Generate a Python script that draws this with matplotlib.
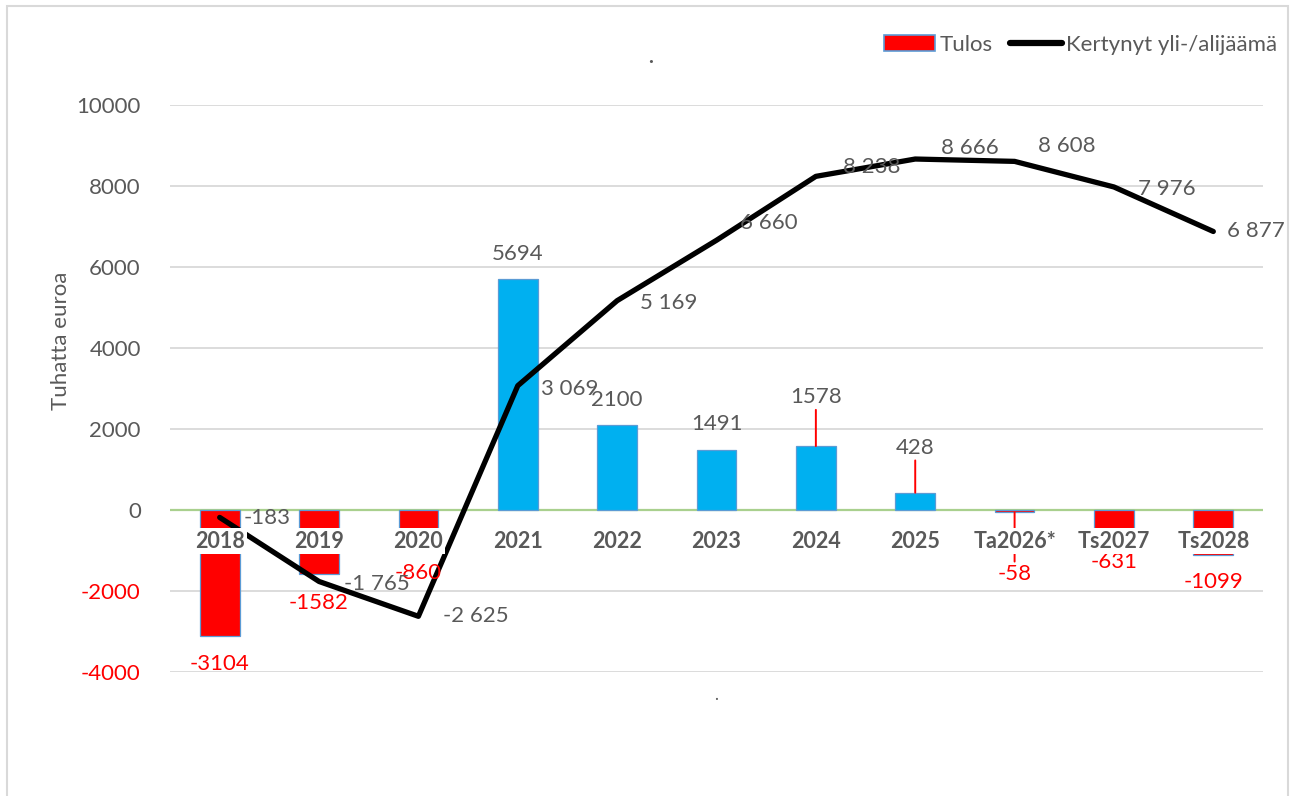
import matplotlib

matplotlib.use("Agg")
import matplotlib.pyplot as plt
from matplotlib.lines import Line2D
from matplotlib.patches import Patch, Rectangle

plt.rcParams["font.family"] = ["Lato", "DejaVu Sans"]

# ---------------------------------------------------------------------------
# Data
# ---------------------------------------------------------------------------

CATEGORIES = ["2018", "2019", "2020", "2021", "2022", "2023", "2024",
              "2025", "Ta2026*", "Ts2027", "Ts2028"]
TULOS = [-3104, -1582, -860, 5694, 2100, 1491, 1578, 428, -58, -631, -1099]
KERTYNYT = [-183, -1765, -2625, 3069, 5169, 6660, 8238, 8666, 8608, 7976, 6877]
Y_TICKS = [-4000, -2000, 0, 2000, 4000, 6000, 8000, 10000]

# label placement (offset pixels from the data point)
TULOS_OFFSETS = [(0, -28), (0, -29), (0, -28), (0, 25), (0, 25), (0, 26),
                 (0, 49), (0, 45), (0, -62), (0, -26), (0, -27)]
TULOS_LEADER = [False, False, False, False, False, False,
                True, True, True, False, False]
KERTYNYT_OFFSETS = [(24, -1), (25, -3), (25, 0), (23, -3), (23, -2), (23, 17),
                    (27, 9), (26, 11), (23, 15), (24, -2), (14, 0)]

GREY = "#595959"
RED = "#FF0000"
BLUE = "#00B0F0"
EDGE = "#5B9BD5"

W, H = 1294, 796


def fmt_space(v: int) -> str:
    return f"{v:,}".replace(",", " ")


def main() -> None:
    fig = plt.figure(figsize=(W / 100, H / 100), dpi=100)
    ax = fig.add_axes((170 / W, 1 - 672 / H, 1093 / W, 567 / H))

    x = list(range(len(CATEGORIES)))
    colours = [BLUE if v >= 0 else RED for v in TULOS]
    ax.bar(x, TULOS, width=0.4, color=colours, edgecolor=EDGE, linewidth=0.9,
           zorder=2.5)
    ax.plot(x, KERTYNYT, color="black", linewidth=3.8, solid_capstyle="round",
            solid_joinstyle="round", zorder=4)

    # bar value labels
    for i, v in enumerate(TULOS):
        dx, dy = TULOS_OFFSETS[i]
        props = None
        if TULOS_LEADER[i]:
            props = dict(arrowstyle="-", color=RED, lw=1.4, shrinkA=0, shrinkB=0)
        ax.annotate(str(v), (i, v), xytext=(dx, dy), textcoords="offset pixels",
                    ha="center", va="center", fontsize=16,
                    color=GREY if v >= 0 else RED, arrowprops=props, zorder=5,
                    annotation_clip=False)

    # line value labels
    for i, v in enumerate(KERTYNYT):
        dx, dy = KERTYNYT_OFFSETS[i]
        ax.annotate(fmt_space(v), (i, v), xytext=(dx, dy),
                    textcoords="offset pixels", ha="left", va="center",
                    fontsize=16, color=GREY, zorder=5, annotation_clip=False)

    # category labels sit just below the zero line, on white boxes
    for i, c in enumerate(CATEGORIES):
        ax.text(i, 0.231, c, transform=ax.get_xaxis_transform(), ha="center",
                va="center", fontsize=15.5, fontweight="bold", color=GREY,
                zorder=6, bbox=dict(boxstyle="square,pad=0.1", fc="white",
                                    ec="none"))

    ax.set_xlim(-0.5, len(CATEGORIES) - 0.5)
    ax.set_ylim(-4000, 10000)
    ax.set_yticks(Y_TICKS)
    ax.set_yticklabels([str(t) for t in Y_TICKS])
    for t, lab in zip(Y_TICKS, ax.get_yticklabels()):
        lab.set_color(RED if t < 0 else GREY)
    ax.tick_params(axis="y", length=0, pad=21, labelsize=16)
    ax.set_xticks([])
    ax.grid(axis="y", color="#D9D9D9", linewidth=1.3, zorder=0)
    ax.set_axisbelow(True)
    ax.axhline(0, color="#A9D08E", linewidth=1.6, zorder=2)
    for s in ax.spines.values():
        s.set_visible(False)

    ax.set_ylabel("Tuhatta euroa", fontsize=16, color=GREY)
    ax.yaxis.set_label_coords(-0.091, 0.584)

    handles = [Patch(facecolor=RED, edgecolor=EDGE, linewidth=1.2),
               Line2D([0], [0], color="black", linewidth=4.5,
                      solid_capstyle="round")]
    fig.legend(handles, ["Tulos", "Kertynyt yli-/alijäämä"], ncol=2,
               loc="center right", bbox_to_anchor=(1286 / W, 1 - 45 / H),
               frameon=False, fontsize=16, labelcolor=GREY, handlelength=2.3,
               handleheight=0.7, handletextpad=0.2, columnspacing=0.8,
               borderaxespad=0)

    # leftover title markers
    fig.text(651 / W, 1 - 57 / H, ".", fontsize=15, color=GREY, ha="center",
             va="center", fontweight="bold")
    fig.text(716 / W, 1 - 695 / H, ".", fontsize=12, color=GREY, ha="center",
             va="center")

    fig.add_artist(Rectangle((7 / W, -0.02), 1281 / W, 1 - 6 / H + 0.02,
                             transform=fig.transFigure, fill=False,
                             edgecolor="#D9D9D9", linewidth=1.5))

    fig.savefig("out.png", dpi=100, facecolor="white")
    plt.close(fig)


if __name__ == "__main__":
    main()
